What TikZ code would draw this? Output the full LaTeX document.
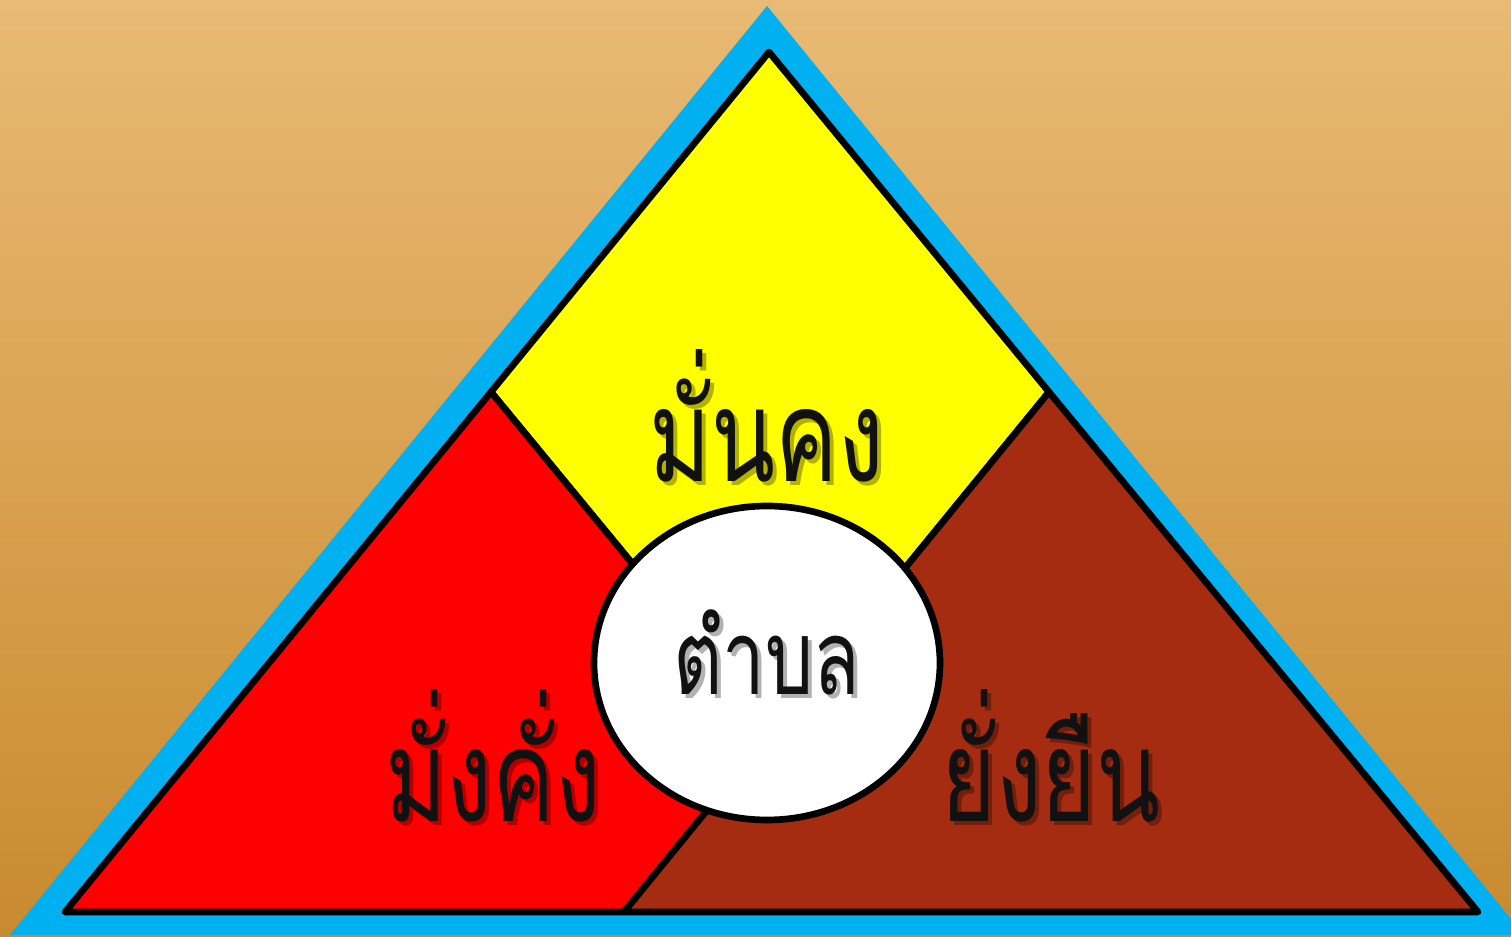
\documentclass[tikz,border=0pt]{standalone}
\usepackage{fontspec}
\usepackage{graphicx}
\newfontfamily\thaifont[Script=Thai]{Loma}
\usepackage{tikz}
\usetikzlibrary{calc}
\definecolor{bgtop}{HTML}{E9BA74}
\definecolor{bgbottom}{HTML}{C98A2E}
\definecolor{frameblue}{HTML}{00B0F0}
\definecolor{partyellow}{HTML}{FFFF00}
\definecolor{partred}{HTML}{FF0000}
\definecolor{partbrown}{HTML}{A52C10}
\definecolor{inkblack}{HTML}{111111}
\newcommand{\narrow}[1]{\scalebox{0.73}[1]{#1}}

\begin{document}
\begin{tikzpicture}[
    x=0.01cm, y=-0.01cm,
    part/.style={draw=black, line width=1.9pt, line join=round, fill=#1},
    word/.style={font=\thaifont\fontsize{#1}{#1}\selectfont, text=inkblack, anchor=base, inner sep=0pt},
    wordshadow/.style={font=\thaifont\fontsize{#1}{#1}\selectfont, text=black, opacity=0.3, anchor=base, inner sep=0pt},
]
    % Background
    \useasboundingbox (0,0) rectangle (1511,937);
    \shade[top color=bgtop, bottom color=bgbottom] (0,0) rectangle (1511,937);

    % Blue frame
    \begin{scope}
        \clip (0,0) rectangle (1511,935);
        \fill[frameblue] (767,6) -- (10,935) -- (1524,935) -- cycle;
    \end{scope}

    % Corner points
    \coordinate (apex) at (769,52);
    \coordinate (bl) at (65,912);
    \coordinate (br) at (1478,912);
    \coordinate (lft) at (491,392);
    \coordinate (rgt) at (1049,392);
    \coordinate (mid) at (771,732);
    \coordinate (foot) at (624,912);

    % Three parts
    \draw[part=partyellow] (apex) -- (lft) -- (mid) -- (rgt) -- cycle;
    \draw[part=partred] (lft) -- (bl) -- (foot) -- (mid) -- cycle;
    \draw[part=partbrown] (rgt) -- (mid) -- (foot) -- (br) -- cycle;

    % Centre
    \draw[part=white] (767,663) ellipse [x radius=173, y radius=157];

    % Labels
    \node[wordshadow=36.5pt] (s1) at (771,486) {\narrow{มั่นคง}};
    \node[word=36.5pt] (w1) at (767,482) {\narrow{มั่นคง}};
    \node[wordshadow=36.5pt] (s2) at (497,826) {\narrow{มั่งคั่ง}};
    \node[word=36.5pt] (w2) at (493,822) {\narrow{มั่งคั่ง}};
    \node[wordshadow=36.5pt] (s3) at (1055,826) {\narrow{ยั่งยืน}};
    \node[word=36.5pt] (w3) at (1051,822) {\narrow{ยั่งยืน}};
    \node[wordshadow=29.6pt] (s4) at (771,699) {\narrow{ตำบล}};
    \node[word=29.6pt] (w4) at (767,695) {\narrow{ตำบล}};
\end{tikzpicture}
\end{document}
